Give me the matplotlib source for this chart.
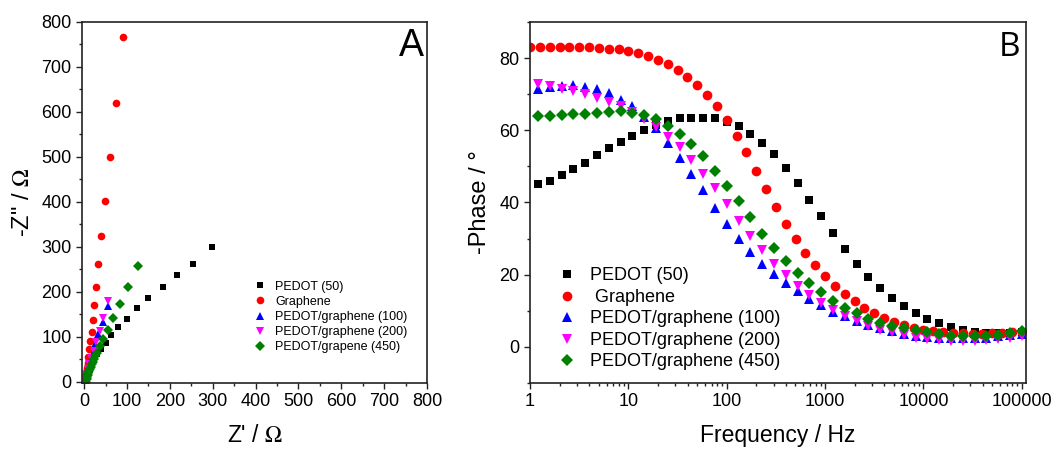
import matplotlib
matplotlib.use("Agg")
import matplotlib.pyplot as plt
import matplotlib.ticker as mtick

plt.rcParams['font.family'] = ['Liberation Sans', 'DejaVu Sans']
plt.rcParams['mathtext.fontset'] = 'stix'

## Nyquist data (panel A), Z' and -Z'' in Ohm
labels_a = ['PEDOT (50)', 'Graphene', 'PEDOT/graphene (100)',
            'PEDOT/graphene (200)', 'PEDOT/grapene (450)']

pedot_zre = [5.4, 7.8, 10.9, 14, 18.6, 23.3, 29.5, 38.8, 50.5, 63.7, 79.2, 99.4,
             123, 150, 183, 216, 254, 299]
pedot_zim = [5, 11, 18.5, 27, 37, 48, 60.6, 71.7, 86.5, 103, 121, 140,
             163, 186, 211, 238, 262, 299]

graph_zre = [1.6, 3.1, 4.7, 6.2, 8.5, 10.1, 12.4, 14.8, 17.9, 20.2, 24.1, 27.2,
             32.6, 38.8, 48.2, 59.8, 73.8, 91.6]
graph_zim = [5.2, 12.6, 21, 31, 42, 55.5, 71.7, 89.5, 111, 137.5, 171, 211,
             262, 325, 402, 500.6, 619, 767]

pg100_zre = [0.5, 1.6, 3.9, 7.0, 10.9, 15.5, 20.2, 25.6, 33.4, 43.5, 56.7]
pg100_zim = [1, 5.2, 14, 23.7, 36.2, 49.5, 64.3, 82.8, 106, 133, 168]

pg200_zre = [1.0, 2.3, 5.4, 8.5, 12.4, 17.1, 22.5, 28.7, 36.5, 45.0, 55.9]
pg200_zim = [1.5, 6.7, 16.3, 27.4, 38.4, 53, 68, 88, 112, 142, 179]

pg450_zre = [5.4, 6.2, 7.0, 8.0, 9.3, 11.0, 13.2, 15.5, 17.9, 20.5, 23.3, 26.3,
             29.5, 36.5, 45.0, 55.9, 68.3, 83.9, 101.7, 125]
pg450_zim = [0, 5.2, 11.1, 14.5, 18.5, 23, 27.4, 33, 38.4, 44, 49.5, 57,
             64.3, 79, 95.4, 116, 142, 173, 210.7, 256.6]

## Bode phase data (panel B)
labels_b = ['PEDOT (50)', ' Graphene', 'PEDOT/graphene (100)',
            'PEDOT/graphene (200)', 'PEDOT/graphene (450)']

freq = [1.20, 1.58, 2.09, 2.75, 3.63, 4.79, 6.31, 8.32, 11.0, 14.5, 19.1, 25.1,
        33.1, 43.7, 57.5, 75.9, 100, 132, 174, 229, 302, 398, 525, 692, 912,
        1202, 1585, 2089, 2754, 3631, 4786, 6310, 8318, 10965, 14454, 19055,
        25119, 33113, 43652, 57544, 75858, 100000]

freq_graph = [1, 1.26, 1.58, 2.0, 2.51, 3.16, 3.98, 5.01, 6.31, 7.94, 10, 12.6,
              15.8, 20.0, 25.1, 31.6, 39.8, 50.1, 63.1, 79.4, 100, 126, 158, 200,
              251, 316, 398, 501, 631, 794, 1000, 1259, 1585, 1995, 2512, 3162,
              3981, 5012, 6310, 7943, 10000, 12589, 15849, 19953, 25119, 31623,
              39811, 50119, 63096, 79433, 100000]

pedot_ph = [45.1, 45.9, 47.7, 49.4, 51.0, 53.1, 55.0, 56.7, 58.4, 60.0, 61.5, 62.6,
            63.3, 63.5, 63.5, 63.3, 62.4, 61.2, 59.1, 56.6, 53.3, 49.5, 45.3, 40.8,
            36.2, 31.5, 27.2, 23.1, 19.4, 16.2, 13.5, 11.2, 9.3, 7.7, 6.5, 5.4,
            4.7, 4.2, 3.9, 3.8, 3.9, 4.1]

graph_ph = [83.0, 83.1, 83.1, 83.1, 83.1, 83.1, 83.0, 82.9, 82.6, 82.4, 81.9, 81.3,
            80.6, 79.4, 78.3, 76.8, 74.8, 72.6, 69.8, 66.6, 62.9, 58.5, 53.9, 48.8,
            43.8, 38.8, 34.1, 30.0, 26.1, 22.8, 19.7, 17.0, 14.6, 12.6, 10.7, 9.3,
            8.0, 6.9, 6.0, 5.2, 4.7, 4.3, 4.0, 3.9, 3.8, 3.7, 3.7, 3.8, 3.9, 4.0, 4.1]

pg100_ph = [71.5, 71.9, 72.3, 72.5, 72.1, 71.5, 70.3, 68.5, 66.6, 63.7, 60.5, 56.5,
            52.4, 47.9, 43.5, 38.5, 34.0, 30.0, 26.2, 23.1, 20.3, 17.7, 15.5, 13.3,
            11.5, 9.8, 8.5, 7.2, 6.1, 5.1, 4.3, 3.6, 3.1, 2.8, 2.6, 2.5,
            2.5, 2.5, 2.6, 2.9, 3.2, 3.6]

pg200_ph = [72.8, 72.2, 71.5, 70.8, 70.0, 69.0, 67.9, 66.7, 65.1, 63.0, 60.9, 58.2,
            55.3, 51.8, 48.0, 44.0, 39.7, 35.0, 30.8, 26.8, 23.1, 19.8, 16.8, 14.3,
            12.1, 10.2, 8.6, 7.2, 5.9, 4.7, 4.0, 3.2, 2.6, 2.1, 1.9, 1.7,
            1.7, 1.7, 1.9, 2.1, 2.5, 3.0]

pg450_ph = [63.9, 64.0, 64.2, 64.4, 64.6, 64.9, 65.2, 65.3, 64.8, 64.1, 63.1, 61.2,
            59.0, 56.2, 52.8, 48.8, 44.6, 40.3, 36.0, 31.4, 27.5, 23.9, 20.5, 17.7,
            15.1, 12.8, 10.9, 9.3, 7.8, 6.7, 5.8, 5.1, 4.6, 4.0, 3.5, 3.1,
            2.9, 2.9, 3.0, 3.2, 3.8, 4.4]

colors = ['black', 'red', 'blue', 'magenta', 'green']
markers = ['s', 'o', '^', 'v', 'D']


def style_axis(ax):
    for sp in ax.spines.values():
        sp.set_linewidth(1.2)
        sp.set_color('#222222')
    ax.tick_params(which='both', direction='out', top=False, right=False,
                   labelsize=13, width=1.0, color='#222222')
    ax.tick_params(which='major', length=4)
    ax.tick_params(which='minor', length=2.5)


## Figure Initializing
fig = plt.figure(figsize=(10.55, 4.53), dpi=100)
ax1 = fig.add_axes([0.0777, 0.1545, 0.327, 0.797])
ax2 = fig.add_axes([0.5024, 0.1545, 0.470, 0.797])

## Panel A
nyq = [(pedot_zre, pedot_zim), (graph_zre, graph_zim), (pg100_zre, pg100_zim),
       (pg200_zre, pg200_zim), (pg450_zre, pg450_zim)]
sizes_a = [5, 5.5, 6, 6, 5.5]
for i in range(len(nyq)):
    ax1.plot(nyq[i][0], nyq[i][1], linestyle='none', marker=markers[i],
             color=colors[i], markersize=sizes_a[i], markeredgewidth=0,
             label=labels_a[i])

ax1.set_xlim(-5, 800)
ax1.set_ylim(-3, 800)
ax1.xaxis.set_major_locator(mtick.MultipleLocator(100))
ax1.xaxis.set_minor_locator(mtick.MultipleLocator(50))
ax1.yaxis.set_major_locator(mtick.MultipleLocator(100))
ax1.yaxis.set_minor_locator(mtick.MultipleLocator(50))
style_axis(ax1)
ax1.set_xlabel("Z' / $\\Omega$", fontsize=16.5, labelpad=10)
ax1.set_ylabel('-Z" / $\\Omega$', fontsize=17, labelpad=5)
ax1.text(0.99, 0.983, 'A', transform=ax1.transAxes, fontsize=27,
         ha='right', va='top')
ax1.legend(loc='lower right', bbox_to_anchor=(0.965, 0.062), frameon=False,
           fontsize=9, handletextpad=0.6, labelspacing=0.25, handlelength=1.2,
           borderaxespad=0.2)

## Panel B
bode = [(freq, pedot_ph), (freq_graph, graph_ph), (freq, pg100_ph),
        (freq, pg200_ph), (freq, pg450_ph)]
sizes_b = [6.2, 7, 7.5, 7.5, 6.5]
for i in range(len(bode)):
    ax2.plot(bode[i][0], bode[i][1], linestyle='none', marker=markers[i],
             color=colors[i], markersize=sizes_b[i], markeredgewidth=0,
             label=labels_b[i])

ax2.set_xscale('log')
ax2.set_xlim(1, 1.1e5)
ax2.set_ylim(-10, 90)
ax2.xaxis.set_major_locator(mtick.LogLocator(base=10, numticks=10))
ax2.xaxis.set_minor_locator(mtick.LogLocator(base=10, subs=range(2, 10), numticks=20))
ax2.xaxis.set_major_formatter(mtick.FuncFormatter(lambda v, p: '{:d}'.format(int(round(v)))))
ax2.xaxis.set_minor_formatter(mtick.NullFormatter())
ax2.yaxis.set_major_locator(mtick.MultipleLocator(20))
ax2.yaxis.set_minor_locator(mtick.MultipleLocator(10))
style_axis(ax2)
ax2.set_xlabel('Frequency / Hz', fontsize=16.5, labelpad=10)
ax2.set_ylabel('-Phase / \u00b0', fontsize=17, labelpad=6)
ax2.text(0.988, 0.975, 'B', transform=ax2.transAxes, fontsize=24,
         ha='right', va='top', family=['Open Sans', 'DejaVu Sans'])
ax2.legend(loc='lower left', bbox_to_anchor=(0.03, 0.0), frameon=False,
           fontsize=13, handletextpad=0.8, labelspacing=0.25, handlelength=1.0,
           borderaxespad=0.3)

fig.savefig('out.png', dpi=100)
